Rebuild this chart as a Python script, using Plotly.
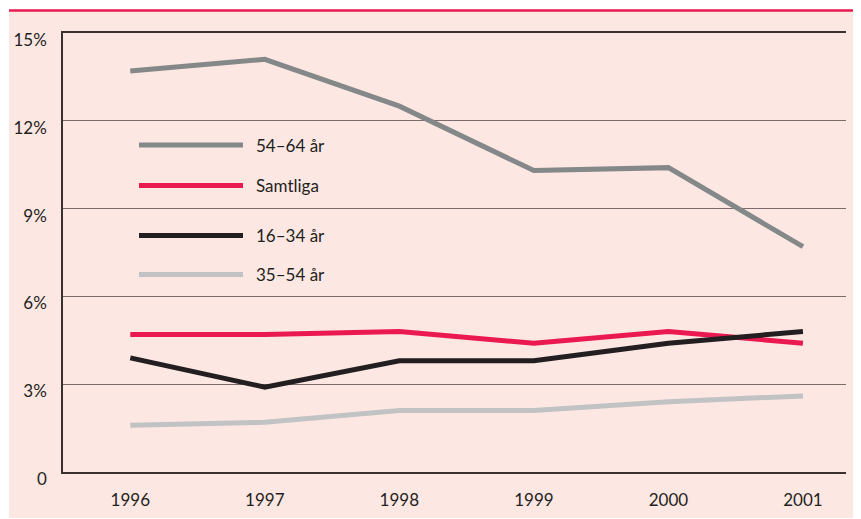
import plotly.graph_objects as go

years = [1996, 1997, 1998, 1999, 2000, 2001]
series_names = ["54–64 år", "Samtliga", "16–34 år", "35–54 år"]
v_54_64 = [13.7, 14.1, 12.5, 10.3, 10.4, 7.7]
v_samtliga = [4.7, 4.7, 4.8, 4.4, 4.8, 4.4]
v_16_34 = [3.9, 2.9, 3.8, 3.8, 4.4, 4.8]
v_35_54 = [1.6, 1.7, 2.1, 2.1, 2.4, 2.6]
y_tickvals = [0, 3, 6, 9, 12, 15]
y_ticktext = ["0", "3%", "6%", "9%", "12%", "15%"]

values = [v_54_64, v_samtliga, v_16_34, v_35_54]
colors = ["#858889", "#ea1a50", "#231f20", "#c0c2c4"]

PINK = "#fde7e3"
FONT = "Lato"
TXT = "#231f20"

fig = go.Figure()
for name, vals, col in zip(series_names, values, colors):
    fig.add_trace(go.Scatter(x=years, y=vals, mode="lines", name=name,
                             line=dict(color=col, width=5),
                             showlegend=False, hoverinfo="skip"))

# page body margin offset (8px) -> screen coordinates minus OFF = figure coordinates
OFF = 8
# plot area in screen px: x 63..846, y 33..472
L, R, T, B = 63 - OFF, 846 - OFF, 33 - OFF, 472 - OFF
W, H = R - L, B - T

def px(x):
    return (x - OFF - L) / W

def py(y):
    return (B - (y - OFF)) / H

shapes = [
    dict(type="rect", xref="paper", yref="paper", x0=px(9), x1=px(880),
         y0=py(518), y1=py(11), fillcolor=PINK, line=dict(width=0), layer="below"),
    dict(type="line", xref="paper", yref="paper", x0=px(9), x1=px(880),
         y0=py(10.5), y1=py(10.5), line=dict(color="#ea1a50", width=2.5)),
]
annotations = []
legend_rows = [145, 185.5, 235.5, 274.5]
for name, col, ry in zip(series_names, colors, legend_rows):
    shapes.append(dict(type="line", xref="paper", yref="paper", x0=px(139), x1=px(243),
                       y0=py(ry), y1=py(ry), line=dict(color=col, width=5)))
    annotations.append(dict(xref="paper", yref="paper", x=px(254), y=py(ry),
                            text=name, showarrow=False, xanchor="left", yanchor="middle",
                            font=dict(family=FONT, size=17, color=TXT)))

fig.update_layout(
    width=861, height=519,
    margin=dict(l=L, r=861 - R, t=T, b=519 - B, pad=0, autoexpand=False),
    paper_bgcolor="white", plot_bgcolor=PINK,
    shapes=shapes, annotations=annotations,
    font=dict(family=FONT, size=17, color=TXT),
    xaxis=dict(range=[1995.50, 2001.32], tickvals=years, ticktext=[str(y) for y in years],
               showgrid=False, zeroline=False, showline=True, linecolor="#3a3030",
               linewidth=1.5, mirror=True, ticks="", ticklabelstandoff=12,
               automargin=False, fixedrange=True),
    yaxis=dict(range=[0, 15], tickvals=y_tickvals, ticktext=y_ticktext,
               showgrid=True, gridcolor="#7a6c6a", gridwidth=1, zeroline=False,
               showline=True, linecolor="#3a3030", linewidth=1.5, ticks="",
               ticklabelstandoff=11, ticklabelshift=7, automargin=False,
               fixedrange=True),
)

fig.write_html("out.html")
